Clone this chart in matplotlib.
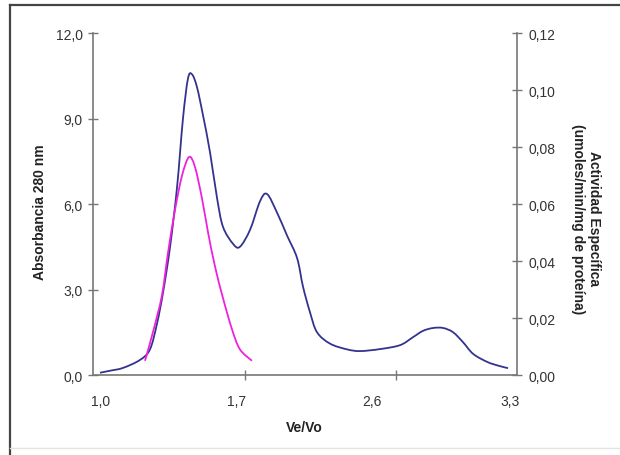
import matplotlib.pyplot as plt
from matplotlib.lines import Line2D
from matplotlib.path import Path
from matplotlib.patches import PathPatch

plt.rcParams['font.family'] = ['Liberation Sans', 'DejaVu Sans']

# Ve/Vo positions
ve_abs = [1.038, 1.092, 1.163, 1.255, 1.309, 1.347, 1.380, 1.418, 1.456, 1.488,
          1.515, 1.537, 1.564, 1.597, 1.635, 1.673, 1.705, 1.760, 1.797, 1.852,
          1.906, 1.944, 1.998, 2.052, 2.107, 2.139, 2.177, 2.215, 2.286, 2.378,
          2.448, 2.557, 2.666, 2.736, 2.790, 2.845, 2.899, 2.953, 3.007, 3.062,
          3.138, 3.197, 3.251]
absorbancia = [0.08, 0.15, 0.25, 0.53, 0.9, 1.8, 2.9, 4.5, 6.6, 9.0,
               10.4, 10.55, 10.1, 9.1, 7.8, 6.2, 5.2, 4.6, 4.5, 5.1,
               6.1, 6.35, 5.7, 4.9, 4.1, 3.1, 2.2, 1.5, 1.1, 0.9,
               0.84, 0.91, 1.05, 1.33, 1.55, 1.65, 1.65, 1.5, 1.15, 0.74,
               0.46, 0.33, 0.24]

ve_act = [1.282, 1.325, 1.374, 1.407, 1.445, 1.483, 1.521, 1.553, 1.591, 1.624,
          1.662, 1.705, 1.754, 1.797, 1.862]
actividad = [0.005, 0.015, 0.028, 0.043, 0.058, 0.070, 0.0765, 0.073, 0.062, 0.050,
             0.038, 0.027, 0.016, 0.009, 0.005]

y_left_ticks = [0, 3, 6, 9, 12]
y_left_labels = ['0,0', '3,0', '6,0', '9,0', '12,0']
y_right_ticks = [0, 0.02, 0.04, 0.06, 0.08, 0.10, 0.12]
y_right_labels = ['0,00', '0,02', '0,04', '0,06', '0,08', '0,10', '0,12']
x_label_pos = [1.043, 1.781, 2.513, 3.262]
x_labels = ['1,0', '1,7', '2,6', '3,3']
x_tick_marks = [1.824, 2.644]

axis_gray = '#777777'
text_col = '#333333'


def smooth_path(xs, ys, t=1.0 / 6):
    # Excel-like smoothed line: cubic bezier segments through every point
    verts = [(xs[0], ys[0])]
    codes = [Path.MOVETO]
    n = len(xs)
    for i in range(n - 1):
        x0, y0 = (xs[i - 1], ys[i - 1]) if i > 0 else (xs[i], ys[i])
        x1, y1 = xs[i], ys[i]
        x2, y2 = xs[i + 1], ys[i + 1]
        x3, y3 = (xs[i + 2], ys[i + 2]) if i + 2 < n else (x2, y2)
        c1 = (x1 + (x2 - x0) * t, y1 + (y2 - y0) * t)
        c2 = (x2 - (x3 - x1) * t, y2 - (y3 - y1) * t)
        verts += [c1, c2, (x2, y2)]
        codes += [Path.CURVE4] * 3
    return Path(verts, codes)


fig = plt.figure(figsize=(6.2, 4.56), dpi=100)
ax = fig.add_axes([0.150, 0.1754, 0.684, 0.750])
ax2 = ax.twinx()

ax.add_patch(PathPatch(smooth_path(ve_abs, absorbancia), facecolor='none',
                       edgecolor='#33338f', lw=1.3, zorder=3))
ax2.add_patch(PathPatch(smooth_path(ve_act, actividad), facecolor='none',
                        edgecolor='#ee22dd', lw=1.3, zorder=3))

ax.set_xlim(1.0, 3.3)
ax.set_ylim(0, 12)
ax2.set_ylim(0, 0.12)

ax.set_yticks(y_left_ticks)
ax.set_yticklabels(y_left_labels)
ax2.set_yticks(y_right_ticks)
ax2.set_yticklabels(y_right_labels)

ax.set_xticks(x_label_pos)
ax.set_xticklabels(x_labels)
ax.set_xticks(x_tick_marks, minor=True)
ax.tick_params(axis='x', which='major', length=0, pad=14, labelsize=10, labelcolor=text_col)
ax.tick_params(axis='x', which='minor', direction='inout', length=7, width=1, color=axis_gray)
ax.tick_params(axis='y', direction='inout', length=7, width=1, color=axis_gray,
               pad=4, labelsize=10, labelcolor=text_col)
ax2.tick_params(axis='y', direction='inout', length=7, width=1, color=axis_gray,
                pad=5, labelsize=10, labelcolor=text_col)

for a in (ax, ax2):
    a.spines['top'].set_visible(False)
    for s in ('left', 'right', 'bottom'):
        a.spines[s].set_color(axis_gray)
        a.spines[s].set_linewidth(1.2)
ax.spines['right'].set_visible(False)
ax2.spines['left'].set_visible(False)
ax2.spines['bottom'].set_visible(False)

fig.text(0.490, 0.061, 'Ve/Vo', ha='center', va='center', fontsize=10,
         fontweight='bold', color='#222222')
fig.text(0.065, 0.535, 'Absorbancia 280 nm', ha='center', va='center', fontsize=10,
         fontweight='bold', color='#222222', rotation=90)
fig.text(0.945, 0.52, 'Actividad Específica\n(umoles/min/mg de proteína)',
         ha='center', va='center', fontsize=10, fontweight='bold', color='#222222',
         rotation=270, linespacing=1.25, multialignment='center')

# outer frame
fig.add_artist(Line2D([0.016, 0.016], [0.0, 0.987], transform=fig.transFigure,
                      color='#444444', lw=1.6))
fig.add_artist(Line2D([0.016, 1.0], [0.987, 0.987], transform=fig.transFigure,
                      color='#444444', lw=1.6))
fig.add_artist(Line2D([0.016, 1.0], [0.015, 0.015], transform=fig.transFigure,
                      color='#e4e4e4', lw=1.0))

fig.savefig('out.png', dpi=100, facecolor='white')
